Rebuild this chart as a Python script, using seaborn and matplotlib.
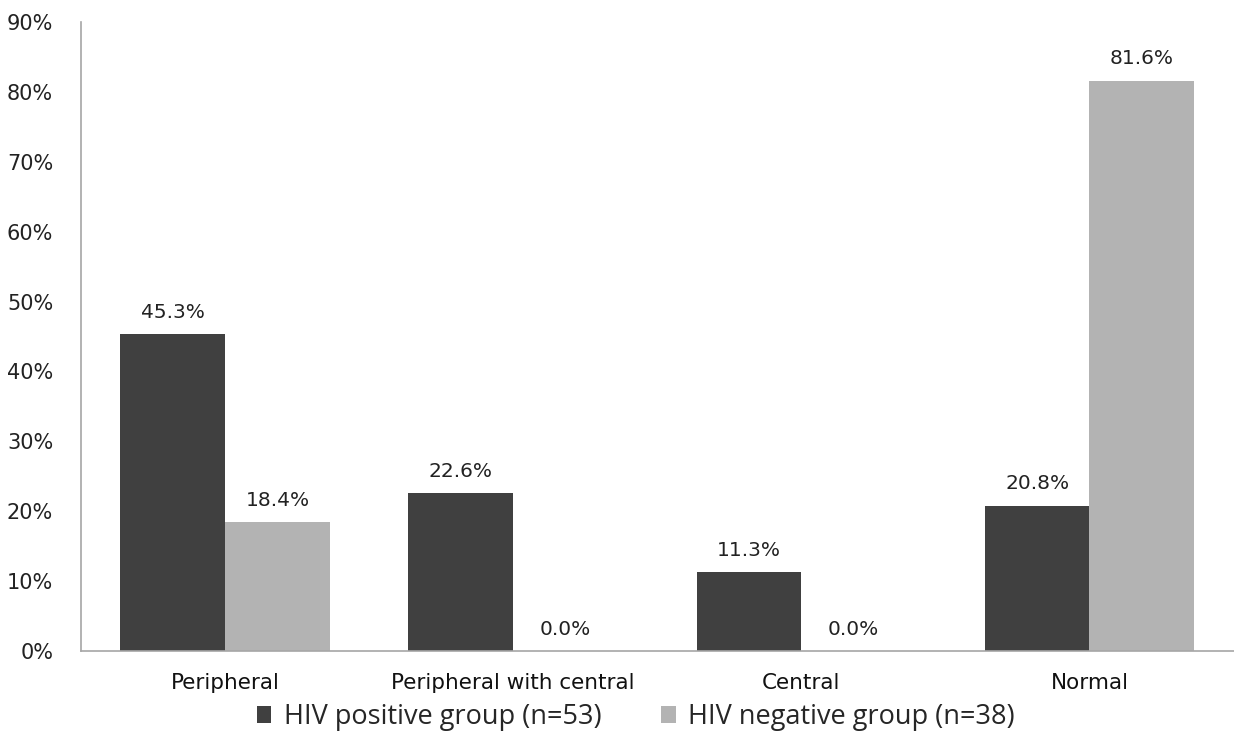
import matplotlib
matplotlib.use("Agg")
import matplotlib.pyplot as plt
import pandas as pd
import seaborn as sns
from matplotlib.ticker import FuncFormatter

categories = ["Peripheral", "Peripheral with central", "Central", "Normal"]
groups = ["HIV positive group (n=53)", "HIV negative group (n=38)"]
hiv_positive = [45.3, 22.6, 11.3, 20.8]
hiv_negative = [18.4, 0.0, 0.0, 81.6]
y_ticks = [0, 10, 20, 30, 40, 50, 60, 70, 80, 90]

df = pd.DataFrame({
    "category": categories * 2,
    "group": [groups[0]] * len(categories) + [groups[1]] * len(categories),
    "value": hiv_positive + hiv_negative,
})

sns.set_style("white")
plt.rcParams["font.family"] = ["DejaVu Sans"]

fig = plt.figure(figsize=(12.34, 7.47), dpi=100)
ax = fig.add_axes([0.0656, 0.1285, 0.934, 0.842])

sns.barplot(
    data=df, x="category", y="value", hue="group", order=categories, hue_order=groups,
    palette=["#404040", "#b3b3b3"], width=0.727, saturation=1, ax=ax,
    errorbar=None, legend=True, linewidth=0,
)

for container in ax.containers:
    ax.bar_label(container, labels=[f"{v:.1f}%" for v in container.datavalues],
                 padding=9, fontsize=14.5, color="#222222")

ax.set_ylim(0, 90)
ax.set_xlim(-0.5, 3.5)
ax.set_yticks(y_ticks)
ax.yaxis.set_major_formatter(FuncFormatter(lambda v, _: f"{v:.0f}%"))
ax.tick_params(axis="y", labelsize=15, colors="#222222", length=0, pad=20)
ax.tick_params(axis="x", labelsize=15.5, colors="#111111", length=0, pad=16)
ax.set_xlabel("")
ax.set_ylabel("")

for side in ["top", "right"]:
    ax.spines[side].set_visible(False)
for side in ["left", "bottom"]:
    ax.spines[side].set_color("#a6a6a6")
    ax.spines[side].set_linewidth(1.2)

handles, labels = ax.get_legend_handles_labels()
ax.get_legend().remove()
fig.legend(handles, labels, loc="center", bbox_to_anchor=(0.515, 0.04), ncol=2,
           frameon=False, handlelength=0.55, handleheight=0.55, handletextpad=0.45,
           columnspacing=2.2, prop={"family": "Open Sans", "size": 19.5})

fig.savefig("out.png", dpi=100)
